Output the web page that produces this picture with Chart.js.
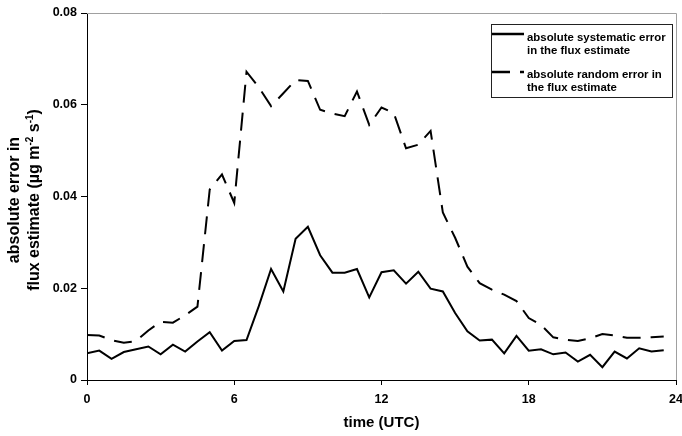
<!DOCTYPE html>
<html>
<head>
<meta charset="utf-8">
<script src="https://cdn.jsdelivr.net/npm/chart.js@4.4.0/dist/chart.umd.min.js"></script>
<style>
html, body { margin: 0; padding: 0; background: #fff; }
#wrap { width: 682px; height: 436px; }
</style>
</head>
<body>
<div id="wrap"><canvas id="flux-chart" width="682" height="436"></canvas></div>
<script>
// time of day (UTC), half-hour steps
var hours = [0, 0.5, 1, 1.5, 2, 2.5, 3, 3.5, 4, 4.5, 5, 5.5,
    6, 6.5, 7, 7.5, 8, 8.5, 9, 9.5, 10, 10.5, 11, 11.5,
    12, 12.5, 13, 13.5, 14, 14.5, 15, 15.5, 16, 16.5, 17, 17.5,
    18, 18.5, 19, 19.5, 20, 20.5, 21, 21.5, 22, 22.5, 23, 23.5];

var systematicError = [0.0058, 0.0064, 0.0046, 0.0061, 0.0067, 0.0073, 0.0056, 0.0077, 0.0062, 0.0084, 0.0104, 0.0064,
    0.0085, 0.0087, 0.0161, 0.0242, 0.0193, 0.0308, 0.0334, 0.0272, 0.0234, 0.0234, 0.0242, 0.0180,
    0.0235, 0.0239, 0.0210, 0.0236, 0.0199, 0.0193, 0.0146, 0.0106, 0.0086, 0.0088, 0.0058, 0.0096,
    0.0064, 0.0067, 0.0056, 0.0060, 0.0040, 0.0055, 0.0028, 0.0062, 0.0047, 0.0069, 0.0062, 0.0065];

var randomError = [0.0098, 0.0097, 0.0087, 0.0081, 0.0085, 0.0108, 0.0127, 0.0125, 0.0141, 0.0160, 0.0415, 0.0448,
    0.0386, 0.0672, 0.0638, 0.0597, 0.0625, 0.0654, 0.0652, 0.0589, 0.0581, 0.0575, 0.0629, 0.0556,
    0.0594, 0.0582, 0.0505, 0.0513, 0.0543, 0.0365, 0.0310, 0.0247, 0.0211, 0.0197, 0.0186, 0.0172,
    0.0135, 0.0120, 0.0093, 0.0088, 0.0085, 0.0091, 0.0100, 0.0097, 0.0092, 0.0092, 0.0093, 0.0095];

var xTicks = [0, 6, 12, 18, 24];
var yTicks = [0, 0.02, 0.04, 0.06, 0.08];

var seriesLabels = [
    ["absolute systematic error", "in the flux estimate"],
    ["absolute random error in", "the flux estimate"]
];

var FONT = '"Liberation Sans", Arial, sans-serif';
var DASH = [18, 10];

function points(values) {
    return hours.map(function (h, i) { return { x: h, y: values[i] }; });
}

// frame, axis titles and the boxed legend
var extras = {
    id: "extras",
    beforeDatasetsDraw: function (chart) {
        var c = chart.ctx, a = chart.chartArea;
        c.save();
        c.strokeStyle = "#a0a0a0";
        c.lineWidth = 1;
        c.beginPath();
        c.moveTo(a.left, a.top + 0.5);
        c.lineTo(a.right + 0.5, a.top + 0.5);
        c.lineTo(a.right + 0.5, a.bottom);
        c.stroke();
        c.restore();
    },
    afterDraw: function (chart) {
        var c = chart.ctx, a = chart.chartArea;
        c.save();
        c.fillStyle = "#000";

        // x title
        c.font = "bold 15px " + FONT;
        c.textAlign = "center";
        c.textBaseline = "middle";
        c.fillText("time (UTC)", (a.left + a.right) / 2, 423);

        // y title, two rotated lines with superscripts
        var cy = 200;
        drawRotated(c, [{ t: "absolute error in" }], 15, cy);
        drawRotated(c, [{ t: "flux estimate (\u00b5g m" }, { t: "-2", sup: true }, { t: " s" }, { t: "-1", sup: true }, { t: ")" }], 35, cy);

        // legend
        c.strokeStyle = "#222";
        c.lineWidth = 1;
        c.strokeRect(491.5, 24.5, 181, 73);
        c.font = "bold 11.4px " + FONT;
        c.textAlign = "left";
        var rows = [{ y: 34, ty: 37.5 }, { y: 72, ty: 74.5 }];
        chart.data.datasets.forEach(function (ds, i) {
            c.save();
            c.strokeStyle = ds.borderColor;
            c.lineWidth = 2.5;
            c.setLineDash(ds.borderDash || []);
            c.beginPath();
            c.moveTo(492, rows[i].y);
            c.lineTo(524, rows[i].y);
            c.stroke();
            c.restore();
            seriesLabels[i].forEach(function (line, j) {
                c.fillText(line, 527, rows[i].ty + j * 13);
            });
        });
        c.restore();
    }
};

function drawRotated(c, parts, cx, cy) {
    c.save();
    c.translate(cx, cy);
    c.rotate(-Math.PI / 2);
    c.textAlign = "left";
    c.textBaseline = "middle";
    var total = 0;
    parts.forEach(function (p) {
        c.font = (p.sup ? "bold 10px " : "bold 16px ") + FONT;
        p.w = c.measureText(p.t).width;
        total += p.w;
    });
    var x = -total / 2;
    parts.forEach(function (p) {
        c.font = (p.sup ? "bold 10px " : "bold 16px ") + FONT;
        c.fillText(p.t, x, p.sup ? -5 : 0);
        x += p.w;
    });
    c.restore();
}

var ctx = document.getElementById("flux-chart").getContext("2d");
var fluxChart = new Chart(ctx, {
    type: "line",
    data: {
        datasets: [{
            label: seriesLabels[0].join(" "),
            data: points(systematicError),
            borderColor: "#000",
            borderWidth: 2,
            pointRadius: 0,
            tension: 0,
            fill: false
        }, {
            label: seriesLabels[1].join(" "),
            data: points(randomError),
            borderColor: "#000",
            borderWidth: 2,
            borderDash: DASH,
            pointRadius: 0,
            tension: 0,
            fill: false
        }]
    },
    options: {
        responsive: false,
        animation: false,
        layout: { padding: { top: 13, right: 6, left: 0, bottom: 0 } },
        plugins: { legend: { display: false }, tooltip: { enabled: false } },
        scales: {
            x: {
                type: "linear",
                min: xTicks[0],
                max: xTicks[xTicks.length - 1],
                afterBuildTicks: function (s) { s.ticks = xTicks.map(function (v) { return { value: v }; }); },
                afterFit: function (s) { s.height = 56; s.paddingLeft = 0; s.paddingRight = 0; },
                ticks: { color: "#000", font: { family: FONT, size: 12.5, weight: "bold" }, padding: 7, maxRotation: 0 },
                grid: { drawOnChartArea: false, drawTicks: true, tickLength: 5, color: "#000" },
                border: { color: "#000", width: 1 }
            },
            y: {
                min: yTicks[0],
                max: yTicks[yTicks.length - 1],
                afterBuildTicks: function (s) { s.ticks = yTicks.map(function (v) { return { value: v }; }); },
                afterFit: function (s) { s.width = 87; s.paddingTop = 0; s.paddingBottom = 0; },
                ticks: {
                    color: "#000",
                    font: { family: FONT, size: 12.5, weight: "bold" },
                    padding: 4,
                    callback: function (v) { return v === 0 ? "0" : v.toFixed(2); }
                },
                grid: { drawOnChartArea: false, drawTicks: true, tickLength: 6, color: "#000" },
                border: { color: "#000", width: 1 }
            }
        }
    },
    plugins: [extras]
});
</script>
</body>
</html>
